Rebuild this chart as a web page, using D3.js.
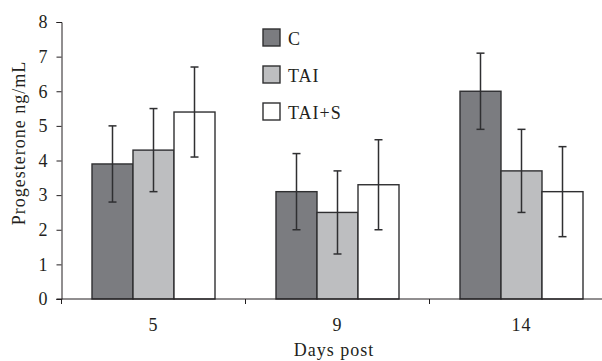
<!DOCTYPE html>
<html lang="en">
<head>
    <meta charset="UTF-8">
    <title>Progesterone</title>
    <script src="https://cdn.jsdelivr.net/npm/d3@7"></script>
    <style>
        body { margin: 0; background: #fff; }
        text { font-family: "Liberation Serif", "DejaVu Serif", serif; fill: #231f20; letter-spacing: 1px; }
    </style>
</head>
<body>
<div id="chart"></div>
<script>
    // days post, groups and values
    const days = ["5", "9", "14"];
    const groups = ["C", "TAI", "TAI+S"];
    const means = {
        "C":     [3.9, 3.1, 6.0],
        "TAI":   [4.3, 2.5, 3.7],
        "TAI+S": [5.4, 3.3, 3.1]
    };
    const errs = {
        "C":     [1.1, 1.1, 1.1],
        "TAI":   [1.2, 1.2, 1.2],
        "TAI+S": [1.3, 1.3, 1.3]
    };
    const yTicks = [0, 1, 2, 3, 4, 5, 6, 7, 8];
    const fills = {"C": "#7b7c80", "TAI": "#bdbec0", "TAI+S": "#ffffff"};

    const W = 602, H = 361;
    const plotLeft = 61.5, plotTop = 22, plotBottom = 299;
    const fs = 18;

    const svg = d3.select("#chart").append("svg")
        .attr("width", W).attr("height", H);

    const y = d3.scaleLinear().domain([0, 8]).range([plotBottom, plotTop]);

    // the last band is cut off at the right edge of the picture
    const x0 = d3.scaleBand().domain(days)
        .range([plotLeft, plotLeft + 184 * 3])
        .paddingInner(0.3315).paddingOuter(0.16575);
    const x1 = d3.scaleBand().domain(groups).range([0, x0.bandwidth()]);

    const rows = [];
    days.forEach((d, i) => groups.forEach(g => rows.push({day: d, g: g, v: means[g][i], e: errs[g][i]})));

    // bars
    svg.append("g").selectAll("rect")
        .data(rows).enter().append("rect")
        .attr("x", d => x0(d.day) + x1(d.g))
        .attr("y", d => y(d.v))
        .attr("width", x1.bandwidth())
        .attr("height", d => y(0) - y(d.v))
        .attr("fill", d => fills[d.g])
        .attr("stroke", "#2f2f31")
        .attr("stroke-width", 1.4);

    // error bars
    const eb = svg.append("g").attr("stroke", "#2f2f31").attr("stroke-width", 1.5);
    rows.forEach(d => {
        const cx = x0(d.day) + x1(d.g) + x1.bandwidth() / 2;
        eb.append("line").attr("x1", cx).attr("x2", cx).attr("y1", y(d.v - d.e)).attr("y2", y(d.v + d.e));
        [d.v - d.e, d.v + d.e].forEach(v => {
            eb.append("line").attr("x1", cx - 4).attr("x2", cx + 4).attr("y1", y(v)).attr("y2", y(v));
        });
    });

    // y axis
    const yAxis = svg.append("g")
        .attr("transform", `translate(${plotLeft},0)`)
        .call(d3.axisLeft(y).tickValues(yTicks).tickSize(5).tickPadding(8));
    yAxis.selectAll("path, line").attr("stroke", "#231f20");
    yAxis.selectAll("text").attr("font-size", fs).attr("font-family", "Liberation Serif").attr("fill", "#231f20");

    // x axis: ticks on band edges, labels at band centres
    const xg = svg.append("g");
    xg.append("line")
        .attr("x1", plotLeft - 5).attr("x2", W)
        .attr("y1", y(0)).attr("y2", y(0))
        .attr("stroke", "#231f20");
    days.forEach(d => {
        const edge = x0(d) - (x0.step() - x0.bandwidth()) / 2;
        xg.append("line").attr("x1", edge).attr("x2", edge)
            .attr("y1", y(0)).attr("y2", y(0) + 5).attr("stroke", "#231f20");
        xg.append("text")
            .attr("x", x0(d) + x0.bandwidth() / 2).attr("y", 331)
            .attr("text-anchor", "middle").attr("font-size", fs)
            .text(d);
    });

    svg.append("text")
        .attr("x", 334).attr("y", 356)
        .attr("text-anchor", "middle").attr("font-size", fs)
        .text("Days post");

    svg.append("text")
        .attr("transform", "translate(25,143) rotate(-90)")
        .attr("text-anchor", "middle").attr("font-size", fs)
        .text("Progesterone ng/mL");

    // legend
    const lg = svg.append("g").attr("transform", "translate(263,29)");
    groups.forEach((g, i) => {
        const row = lg.append("g").attr("transform", `translate(0,${i * 37})`);
        row.append("rect").attr("width", 17).attr("height", 17)
            .attr("fill", fills[g]).attr("stroke", "#2f2f31").attr("stroke-width", 1.4);
        row.append("text").attr("x", 25).attr("y", 16).attr("font-size", fs).text(g);
    });
</script>
</body>
</html>
